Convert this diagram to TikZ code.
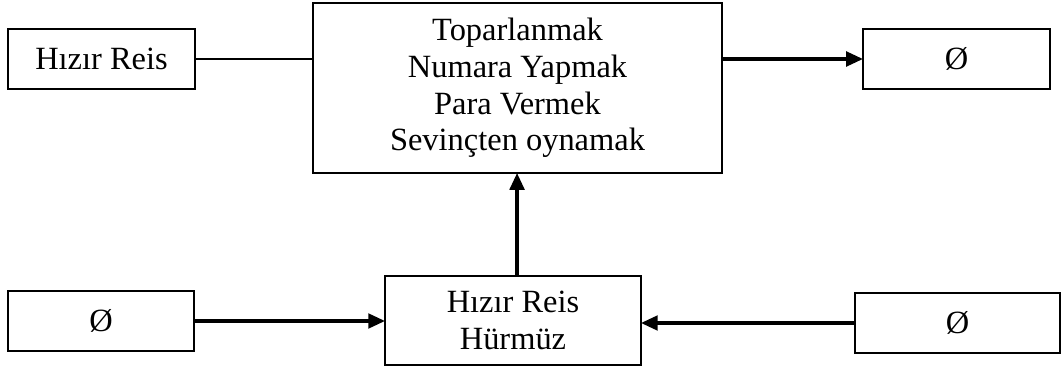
\documentclass[tikz,border=0pt]{standalone}
\usepackage{fontspec}
\setmainfont{Liberation Serif}
\usetikzlibrary{arrows.meta}

\begin{document}
\begin{tikzpicture}[x=0.37pt,y=-0.37pt,
        kutu/.style={draw, line width=0.45pt, inner sep=0pt, outer sep=0pt,
            align=center, font=\fontsize{12}{13.6}\selectfont},
        ok/.style={line width=1.2pt, -{Triangle[length=6.2pt,width=5.4pt]}}]

        % ===============================
        % Sayfa sinirlari
        % ===============================
        \useasboundingbox (0,0) rectangle (1061,367);

        % ===============================
        % Ust sira
        % ===============================
        \node[kutu, minimum width=69.2pt, minimum height=22.2pt] (hizir) at (101.5,59) {Hızır Reis};
        \node[kutu, minimum width=151.3pt, minimum height=62.9pt] (eylem) at (517.5,88)
            {Toparlanmak\\Numara Yapmak\\Para Vermek\\Sevinçten oynamak};
        \node[kutu, minimum width=69.2pt, minimum height=22.2pt] (bosA) at (956.5,59) {Ø};

        % ===============================
        % Alt sira
        % ===============================
        \node[kutu, minimum width=68.8pt, minimum height=22.2pt] (bosB) at (101,321) {Ø};
        \node[kutu, minimum width=94.7pt, minimum height=32.9pt] (ikili) at (513,320.5)
            {Hızır Reis\\Hürmüz};
        \node[kutu, minimum width=75.9pt, minimum height=22.2pt] (bosC) at (957.5,323) {Ø};

        % ===============================
        % Baglantilar
        % ===============================
        \draw[line width=0.45pt] (hizir.east) -- (hizir.east -| eylem.west);
        \draw[ok] (eylem.east |- bosA.west) -- (bosA.west);
        \draw[ok] (bosB.east) -- (bosB.east -| ikili.west);
        \draw[ok] (bosC.west) -- (bosC.west -| ikili.east);
        \draw[ok] ([xshift=1.5pt]ikili.north) -- ([xshift=1.5pt]ikili.north |- eylem.south);

    \end{tikzpicture}
\end{document}
